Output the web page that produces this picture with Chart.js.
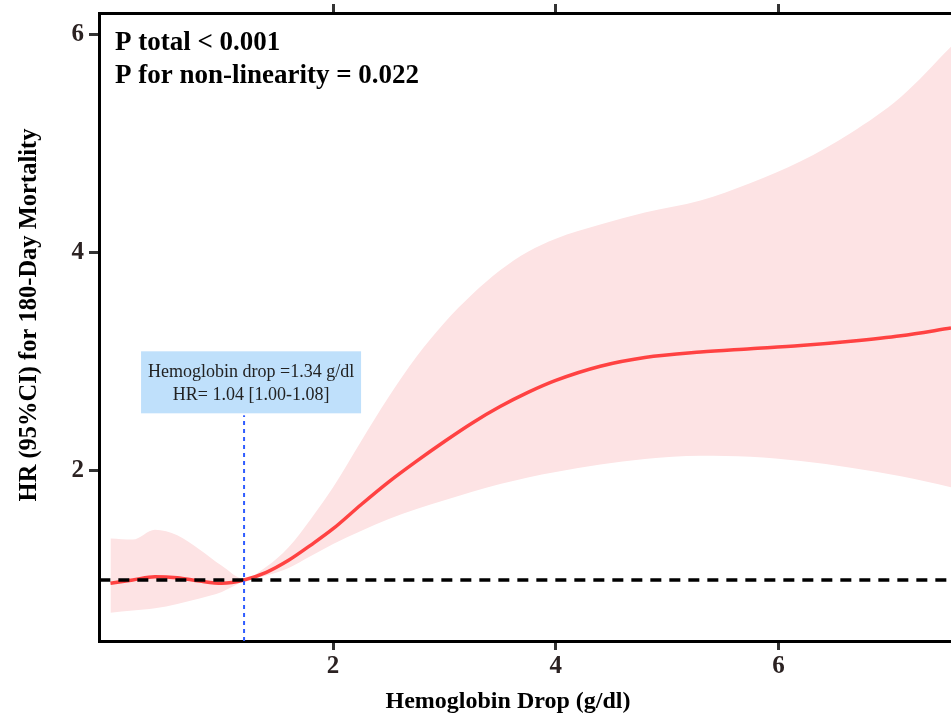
<!DOCTYPE html>
<html>
<head>
<meta charset="utf-8">
<script src="https://cdn.jsdelivr.net/npm/chart.js@4"></script>
<style>
  html, body { margin: 0; padding: 0; background: #fff; overflow: hidden; }
  #wrap { width: 951px; height: 715px; }
</style>
</head>
<body>
<div id="wrap"><canvas id="grafico"></canvas></div>
<script>
// valores
let hbDrop = [0, 0.2, 0.4, 0.6, 0.8, 1.0, 1.2, 1.4, 1.6, 1.8, 2.0, 2.25, 2.5, 2.75, 3.0, 3.25, 3.5, 3.75, 4.0, 4.4, 4.8, 5.3, 5.75, 6.2, 6.65, 7.1, 7.55];
let hr =      [0.97, 1.00, 1.03, 1.02, 0.99, 0.97, 1.00, 1.07, 1.18, 1.32, 1.47, 1.69, 1.90, 2.09, 2.27, 2.44, 2.59, 2.72, 2.83, 2.96, 3.04, 3.09, 3.12, 3.15, 3.19, 3.24, 3.31];
let hrUpper = [1.38, 1.37, 1.46, 1.41, 1.28, 1.13, 1.01, 1.12, 1.30, 1.56, 1.85, 2.27, 2.68, 3.05, 3.36, 3.62, 3.84, 4.01, 4.13, 4.26, 4.37, 4.48, 4.64, 4.84, 5.10, 5.43, 5.89];
let hrLower = [0.70, 0.72, 0.74, 0.78, 0.83, 0.89, 0.99, 1.04, 1.11, 1.22, 1.33, 1.45, 1.56, 1.65, 1.73, 1.81, 1.88, 1.94, 1.99, 2.06, 2.11, 2.14, 2.13, 2.09, 2.03, 1.95, 1.85];
let xTicks = [2, 4, 6];
let yTicks = [2, 4, 6];
let refHR = 1;
let cutX = 1.2;
let pLines = ['P total < 0.001', 'P for non-linearity = 0.022'];
let cutLines = ['Hemoglobin drop =1.34 g/dl', 'HR= 1.04 [1.00-1.08]'];
let xTitle = 'Hemoglobin Drop (g/dl)';
let yTitle = 'HR (95%CI) for 180-Day Mortality';

let fuente = '"Liberation Serif", "DejaVu Serif", serif';
let colorTick = '#2b2222';

function pares(ys) {
    return hbDrop.map((x, i) => ({ x: x, y: ys[i] }));
}

let textos = {
    id: 'textos',
    afterDatasetsDraw(chart) {
        let ctx = chart.ctx;
        let xs = chart.scales.x;
        let ys = chart.scales.y;
        let area = chart.chartArea;
        ctx.save();

        // caja de la anotacion
        let cx = xs.getPixelForValue(cutX) + 7;
        let bw = 220, bh = 62;
        let by = ys.getPixelForValue(2.51) - bh - 2;
        ctx.fillStyle = '#bfe0fb';
        ctx.fillRect(cx - bw / 2, by, bw, bh);
        ctx.fillStyle = '#222';
        ctx.font = '18px ' + fuente;
        ctx.textAlign = 'center';
        ctx.textBaseline = 'middle';
        ctx.fillText(cutLines[0], cx, by + 21);
        ctx.fillText(cutLines[1], cx, by + 44);

        // valores P
        ctx.fillStyle = '#000';
        ctx.font = 'bold 27px ' + fuente;
        ctx.textAlign = 'left';
        ctx.textBaseline = 'alphabetic';
        ctx.fillText(pLines[0], area.left + 16, 50);
        ctx.fillText(pLines[1], area.left + 16, 83);

        // titulos de ejes
        ctx.textAlign = 'center';
        ctx.textBaseline = 'middle';
        ctx.font = 'bold 24px ' + fuente;
        ctx.fillText(xTitle, 508, 702);
        ctx.translate(30, 315);
        ctx.rotate(-Math.PI / 2);
        ctx.font = 'bold 24.5px ' + fuente;
        ctx.fillText(yTitle, 0, 0);
        ctx.restore();
    }
};

let ticksX = function (scale) {
    scale.ticks = xTicks.map(v => ({ value: v }));
};

let graficaHR = document.getElementById('grafico').getContext('2d');
let parametrosHR = {
    type: 'line',
    data: {
        datasets: [
            {
                label: 'upper',
                data: pares(hrUpper),
                borderWidth: 0,
                pointRadius: 0,
                cubicInterpolationMode: 'monotone',
                fill: '+1',
                backgroundColor: '#fde3e4',
                order: 5
            },
            {
                label: 'lower',
                data: pares(hrLower),
                borderWidth: 0,
                pointRadius: 0,
                cubicInterpolationMode: 'monotone',
                fill: false,
                order: 5
            },
            {
                label: 'HR',
                data: pares(hr),
                borderColor: '#ff4242',
                borderWidth: 3.5,
                pointRadius: 0,
                cubicInterpolationMode: 'monotone',
                fill: false,
                order: 3
            },
            {
                label: 'ref',
                data: [{ x: -0.1, y: refHR }, { x: 7.55, y: refHR }],
                borderColor: '#000',
                borderWidth: 3.5,
                borderDash: [11, 8],
                pointRadius: 0,
                fill: false,
                order: 2
            },
            {
                label: 'corte',
                data: [{ x: cutX, y: 0.44 }, { x: cutX, y: 2.51 }],
                borderColor: '#2f5cff',
                borderWidth: 2,
                borderDash: [4, 4],
                pointRadius: 0,
                fill: false,
                order: 1
            }
        ]
    },
    options: {
        responsive: true,
        maintainAspectRatio: false,
        animation: false,
        layout: { padding: 0 },
        plugins: {
            legend: { display: false },
            tooltip: { enabled: false },
            title: { display: false }
        },
        scales: {
            x: {
                type: 'linear',
                position: 'bottom',
                min: -0.103,
                max: 7.55,
                afterBuildTicks: ticksX,
                afterFit: s => { s.height = 74; s.paddingLeft = 0; s.paddingRight = 0; },
                border: { display: true, color: '#000', width: 3 },
                grid: { drawOnChartArea: false, drawTicks: true, tickLength: 9, tickWidth: 3, tickColor: '#333' },
                ticks: { color: colorTick, padding: 2, font: { family: fuente, size: 25, weight: 'bold' }, maxRotation: 0 }
            },
            x2: {
                type: 'linear',
                position: 'top',
                min: -0.103,
                max: 7.55,
                afterBuildTicks: ticksX,
                afterFit: s => { s.height = 13; s.paddingLeft = 0; s.paddingRight = 0; },
                border: { display: true, color: '#000', width: 3 },
                grid: { drawOnChartArea: false, drawTicks: true, tickLength: 9, tickWidth: 3, tickColor: '#333' },
                ticks: { color: 'rgba(0,0,0,0)', font: { size: 1 } }
            },
            y: {
                type: 'linear',
                min: 0.44,
                max: 6.2,
                afterBuildTicks: s => { s.ticks = yTicks.map(v => ({ value: v })); },
                afterFit: s => { s.width = 99; s.paddingTop = 0; s.paddingBottom = 0; },
                border: { display: true, color: '#000', width: 3 },
                grid: { drawOnChartArea: false, drawTicks: true, tickLength: 10, tickWidth: 3, tickColor: '#333' },
                ticks: { color: colorTick, padding: 5, font: { family: fuente, size: 25, weight: 'bold' } }
            }
        }
    },
    plugins: [textos]
};
var graficoHR = new Chart(graficaHR, parametrosHR);
</script>
</body>
</html>
